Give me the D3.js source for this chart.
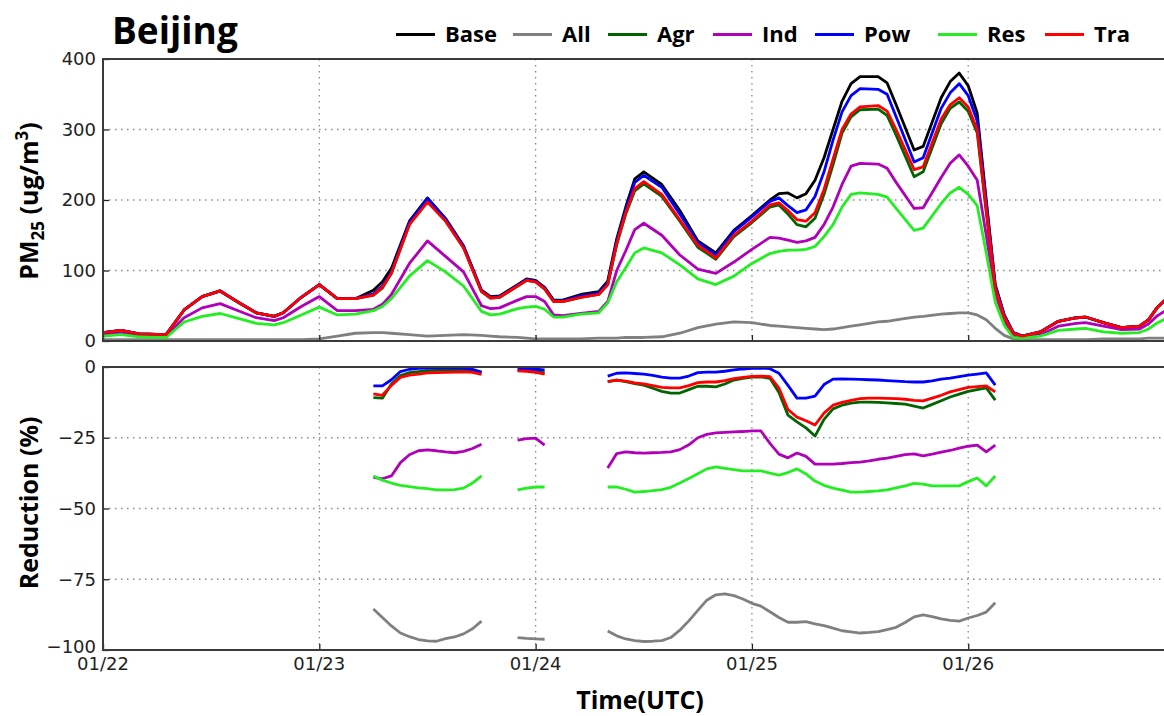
<!DOCTYPE html>
<html>
<head>
<meta charset="utf-8">
<script src="https://cdn.jsdelivr.net/npm/d3@7"></script>
<style>
  html, body { margin: 0; padding: 0; background: #fff; }
  svg { display: block; }
  .tick text { font-family: "DejaVu Sans", sans-serif; font-size: 18px; fill: #222; }
  .lbl { font-family: "Open Sans", sans-serif; font-weight: 700; fill: #000; }
</style>
</head>
<body>
<svg id="chart" width="1164" height="716"></svg>
<script>
// ---- PM2.5 concentration (ug/m3), hours since 01/22 00:00 UTC ----
const hours = [0,2,4,7,9, 11,13,15,17,19, 20,22,24,26,28, 30,31,32,34,36,
  38,40,42,43,44, 46,47,48,49,50, 51,53,55,56,57, 58,59,60,62,64,
  66,68,70,72,74, 75,76,77,78,79, 80,81,82,83,84, 86,87,88,90,91,
  93,94,95,96,97, 98,99,100,101,102, 104,106,108,109,111, 113,115,116,117,118];

const baseVals = [12,15,10,9,44, 63,71,55,40,35, 40,62,80,60,60, 72,84,103,170,203,
  174,135,72,63,64, 80,88,86,76,58, 58,66,70,85,145, 190,230,240,222,185,
  142,125,157,178,200, 209,210,203,209,228, 260,300,340,365,375, 375,366,335,271,276,
  345,368,380,362,323, 200,80,37,12,7, 13,28,33,34,26, 19,21,30,48,60];

const allVals = [2,2,2,2,2, 2,2,2,2,2, 2,2,3,7,11, 12,12,11,9,7,
  8,9,8,7,6, 5,4,3,3,3, 3,3,4,4,4, 5,5,5,6,11,
  19,24,27,26,22, 21,20,19,18,17, 16,17,19,21,23, 27,28,30,34,35,
  38,39,40,40,37, 30,18,8,3,2, 2,2,2,2,3, 3,3,4,4,4];

const agrVals = [12,15,10,9,44, 63,71,55,40,35, 40,62,80,60,60, 65,75,96,166,199,
  171,133,70,61,62, 78,86,84,74,56, 56,62,66,80,137, 180,213,223,205,170,
  133,116,148,168,190, 193,180,165,162,174, 208,250,295,318,328, 329,320,292,233,240,
  308,330,339,326,295, 182,72,33,11,7, 13,28,33,34,26, 19,21,30,48,60];

const indVals = [9,12,8,7,33, 47,53,43,33,29, 33,49,63,43,43, 45,52,66,110,142,
  120,98,50,46,47, 58,63,63,56,37, 36,39,42,56,100, 128,158,167,150,122,
  102,96,112,130,147, 146,143,140,142,147, 165,190,222,248,252, 251,245,225,188,189,
  232,252,264,248,228, 150,68,28,8,5, 9,21,25,26,21, 16,17,24,36,44];

const powVals = [12,15,10,9,44, 63,71,55,40,35, 40,62,80,60,60, 67,78,98,168,202,
  173,134,71,62,63, 79,87,85,75,57, 57,64,68,82,141, 186,225,235,218,180,
  140,122,155,176,198, 203,192,182,186,205, 240,285,325,348,358, 357,350,318,254,260,
  330,352,365,348,312, 196,78,36,12,7, 13,28,33,34,26, 19,21,30,48,60];

const resVals = [7,9,6,5,27, 35,39,32,25,23, 26,37,48,37,38, 43,49,60,92,114,
  98,78,42,37,38, 46,48,49,45,34, 34,38,40,54,84, 104,125,132,125,108,
  88,80,92,110,124, 127,129,129,130,134, 148,165,190,208,210, 208,204,188,157,160,
  195,210,218,208,192, 125,55,22,5,4, 7,15,17,18,13, 11,12,17,26,32];

const traVals = [12,15,10,9,44, 63,71,55,40,35, 40,62,80,60,60, 65,76,96,165,197,
  170,132,70,61,62, 78,86,84,74,56, 56,62,66,80,138, 182,216,226,208,172,
  136,118,150,170,193, 196,185,172,170,182, 215,258,300,322,332, 334,326,300,243,247,
  315,335,345,332,300, 188,75,34,11,7, 13,28,33,34,26, 19,21,30,48,60];

// ---- Reduction relative to Base (%), hourly from hour 30 to 99; null = no value ----
const redStart = 30;
const allRed = [-85.5,-88.5,-91.5,-94,-95.3,-96.3,-96.8,-96.9,-96,-95.4,-94.3,-92.5,-89.8,
  null,null,null, -95.6,-95.9,-96.1,-96.2, null,null,null,null,null,null,
  -93.3,-95,-96.1,-96.7,-97,-96.9,-96.7,-95.6,-93,-89.7,
  -86,-82.4,-80.5,-80.2,-80.8,-82,-83.5,-84.5,-86.5,-88.5,
  -90.2,-90.2,-90,-90.8,-91.4,-92.3,-93.2,-93.6,-94,-93.8,
  -93.5,-92.8,-92,-90.3,-88.3,-87.6,-88.2,-89,-89.5,-89.8,
  -88.7,-87.8,-86.6,-83.3];
const agrRed = [-10.8,-11,-6,-3,-2,-1.6,-1.3,-1.2,-1.1,-1,-1,-1.2,-2,
  null,null,null, -1.2,-1.3,-1.6,-2, null,null,null,null,null,null,
  -5.2,-4.6,-5.2,-5.9,-6.4,-7.5,-8.6,-9.2,-9.2,-8.0,
  -6.8,-6.8,-7.0,-6.0,-4.6,-4.0,-3.6,-3.5,-4.0,-9.0,
  -17,-19.4,-21.5,-24.4,-18.5,-14.8,-13.5,-12.8,-12.4,-12.4,
  -12.5,-12.7,-12.9,-13.1,-13.8,-14.5,-13.2,-11.9,-10.6,-9.6,
  -8.6,-8.0,-7.4,-11.7];
const indRed = [-39,-39.5,-38.5,-33.8,-31,-29.6,-29.3,-29.6,-30,-30.3,-29.8,-28.8,-27.3,
  null,null,null, -25.8,-25.3,-25.1,-27.6, null,null,null,null,null,null,
  -35.7,-30.6,-30,-30.3,-30.4,-30.3,-30.2,-30,-29.2,-27.5,
  -25,-23.8,-23.3,-23.1,-22.9,-22.8,-22.6,-22.6,-27,-30.8,
  -32.1,-30.4,-31.6,-34.3,-34.3,-34.3,-34.1,-33.8,-33.6,-33.2,
  -32.6,-32.2,-31.6,-31,-30.7,-31.4,-30.8,-30.1,-29.5,-28.7,
  -28,-27.6,-30,-27.6];
const powRed = [-6.7,-6.7,-4.5,-1.6,-0.8,-0.5,-0.4,-0.3,-0.3,-0.3,-0.4,-0.8,-1.8,
  null,null,null, -0.7,-0.7,-0.8,-1.0, null,null,null,null,null,null,
  -3.2,-2.2,-2.1,-2.3,-2.5,-3.0,-3.6,-3.9,-3.9,-3.2,
  -2.0,-1.8,-1.8,-1.5,-1.0,-0.7,-0.5,-0.4,-0.6,-2.2,
  -6.5,-11,-11,-10.3,-6.2,-4.3,-4.2,-4.3,-4.4,-4.5,
  -4.6,-4.8,-5.0,-5.2,-5.3,-5.3,-4.9,-4.3,-3.9,-3.4,
  -2.9,-2.5,-2.1,-6.4];
const resRed = [-38.5,-40,-41,-41.8,-42.3,-42.7,-43,-43.4,-43.4,-43.3,-42.8,-41,-38.5,
  null,null,null, -43.4,-42.8,-42.4,-42.4, null,null,null,null,null,null,
  -42.4,-42.4,-43.2,-44.2,-44,-43.7,-43.3,-42.5,-41,-39.4,
  -37.7,-36,-35.3,-35.8,-36.3,-36.7,-36.7,-36.7,-37.5,-38.2,
  -37.3,-36,-37.8,-40.3,-41.8,-42.8,-43.5,-44.2,-44.2,-44,
  -43.8,-43.4,-42.7,-42,-41.1,-41.4,-42,-42,-42,-42,
  -40.5,-39.2,-42,-38.5];
const traRed = [-9.5,-10,-6.5,-3.7,-2.9,-2.5,-2.1,-2,-1.9,-1.8,-1.7,-1.9,-2.6,
  null,null,null, -1.4,-1.5,-1.9,-2.5, null,null,null,null,null,null,
  -5.2,-4.6,-5.0,-5.6,-6.0,-6.6,-7.2,-7.4,-7.4,-6.6,
  -5.5,-5.3,-5.3,-4.8,-4.1,-3.7,-3.3,-3.2,-3.4,-7.5,
  -15,-17.7,-19,-20.5,-16.3,-13.5,-12.5,-11.8,-11.2,-11,
  -11,-11.1,-11.2,-11.4,-11.8,-12,-11,-10,-8.8,-8,
  -7.2,-6.9,-6.7,-8.8];

// ---- labels ----
const dayTicks = [0, 24, 48, 72, 96];
const dayLabels = ["01/22", "01/23", "01/24", "01/25", "01/26"];
const pmTicks = [0, 100, 200, 300, 400];
const redTicks = [0, -25, -50, -75, -100];

const seriesNames = ["Base", "All", "Agr", "Ind", "Pow", "Res", "Tra"];
const seriesColors = ["#000000", "#808080", "#006400", "#b000b8", "#0000ff", "#22ee22", "#ff0000"];

// ---- layout ----
const svg = d3.select("#chart");
const left = 103, right = 1166.5;
const top1 = 59, bot1 = 341;
const top2 = 367, bot2 = 650;

const x = d3.scaleLinear().domain([0, 118]).range([left, right]);
const y1 = d3.scaleLinear().domain([0, 400]).range([bot1, top1]);
const y2 = d3.scaleLinear().domain([-100, 0]).range([bot2, top2]);

const defs = svg.append("defs");
defs.append("clipPath").attr("id", "clipTop")
  .append("rect").attr("x", left).attr("y", top1).attr("width", right - left).attr("height", bot1 - top1);
defs.append("clipPath").attr("id", "clipBot")
  .append("rect").attr("x", left).attr("y", top2).attr("width", right - left).attr("height", bot2 - top2);

function grid(yScale, yVals, y0, y1px) {
  const g = svg.append("g").attr("stroke", "#8a8a8a").attr("stroke-width", 1.3)
    .attr("stroke-dasharray", "1.5,4.5").attr("fill", "none");
  yVals.forEach(v => g.append("line")
    .attr("x1", left).attr("x2", right).attr("y1", yScale(v)).attr("y2", yScale(v)));
  dayTicks.slice(1).forEach(h => g.append("line")
    .attr("x1", x(h)).attr("x2", x(h)).attr("y1", y0).attr("y2", y1px));
}
grid(y1, [100, 200, 300], top1, bot1);
grid(y2, [-25, -50, -75], top2, bot2);

// ---- top panel lines ----
const topSeries = [baseVals, allVals, agrVals, indVals, powVals, resVals, traVals];
const lineTop = d3.line().x((d, i) => x(hours[i])).y(d => y1(d));
const gTop = svg.append("g").attr("clip-path", "url(#clipTop)");
topSeries.forEach((vals, k) => {
  gTop.append("path").datum(vals)
    .attr("d", lineTop)
    .attr("fill", "none")
    .attr("stroke", seriesColors[k])
    .attr("stroke-width", 2.8)
    .attr("stroke-linejoin", "round");
});

// ---- bottom panel lines ----
const botSeries = [null, allRed, agrRed, indRed, powRed, resRed, traRed];
const lineBot = d3.line()
  .defined(d => d !== null)
  .x((d, i) => x(redStart + i))
  .y(d => y2(d));
const gBot = svg.append("g").attr("clip-path", "url(#clipBot)");
botSeries.forEach((vals, k) => {
  if (!vals) return;
  gBot.append("path").datum(vals)
    .attr("d", lineBot)
    .attr("fill", "none")
    .attr("stroke", seriesColors[k])
    .attr("stroke-width", 2.8)
    .attr("stroke-linejoin", "round");
});

// ---- axes ----
function styleAxis(g) {
  g.select(".domain").remove();
  g.selectAll(".tick line").attr("stroke", "#222").attr("stroke-width", 1.3);
}
svg.append("g").attr("transform", `translate(${left},0)`)
  .call(d3.axisLeft(y1).tickValues(pmTicks).tickSize(-6).tickPadding(7))
  .call(styleAxis);
svg.append("g").attr("transform", `translate(${left},0)`)
  .call(d3.axisLeft(y2).tickValues(redTicks).tickSize(-6).tickPadding(7)
    .tickFormat(d => d < 0 ? "\u2212" + Math.abs(d) : d))
  .call(styleAxis)
  .call(g => g.selectAll(".tick text").filter(d => d === -100).attr("dy", "0.12em"));
svg.append("g").attr("transform", `translate(0,${bot2})`)
  .call(d3.axisBottom(x).tickValues(dayTicks).tickSize(-6).tickFormat(""))
  .call(styleAxis);
svg.append("g").attr("transform", `translate(0,${bot1})`)
  .call(d3.axisBottom(x).tickValues(dayTicks).tickSize(-6).tickFormat(""))
  .call(styleAxis);

// day labels under the lower panel, nudged right of the corner label
svg.append("g").selectAll("text").data(dayTicks).join("text")
  .attr("x", d => x(d)).attr("y", bot2 + 20)
  .attr("text-anchor", "middle")
  .attr("font-family", "DejaVu Sans, sans-serif").attr("font-size", 18).attr("fill", "#222")
  .text((d, i) => dayLabels[i]);

// spines
const spine = svg.append("g").attr("stroke", "#3a3a3a").attr("stroke-width", 2).attr("fill", "none");
[[top1, bot1], [top2, bot2]].forEach(([a, b]) => {
  spine.append("path").attr("d", `M${right},${a}H${left}V${b}H${right}`);
});

// ---- text ----
svg.append("text").attr("class", "lbl").attr("x", 112).attr("y", 44)
  .attr("font-size", 37).text("Beijing");

const yl1 = svg.append("text").attr("class", "lbl").attr("font-size", 25)
  .attr("text-anchor", "middle")
  .attr("transform", "translate(38,201) rotate(-90)");
yl1.append("tspan").text("PM");
yl1.append("tspan").attr("font-size", 17).attr("dy", 6).text("25");
yl1.append("tspan").attr("dy", -6).text(" (ug/m");
yl1.append("tspan").attr("font-size", 17).attr("dy", -10).text("3");
yl1.append("tspan").attr("dy", 10).text(")");

svg.append("text").attr("class", "lbl").attr("font-size", 25)
  .attr("text-anchor", "middle")
  .attr("transform", "translate(38,503) rotate(-90)")
  .text("Reduction (%)");

svg.append("text").attr("class", "lbl").attr("font-size", 25)
  .attr("text-anchor", "middle").attr("x", 640).attr("y", 709)
  .text("Time(UTC)");

// ---- legend ----
const legendX = [396, 513, 608, 713, 815, 938, 1045];
const leg = svg.append("g");
seriesNames.forEach((name, k) => {
  leg.append("line")
    .attr("x1", legendX[k]).attr("x2", legendX[k] + 39)
    .attr("y1", 34.5).attr("y2", 34.5)
    .attr("stroke", seriesColors[k]).attr("stroke-width", 3);
  leg.append("text").attr("class", "lbl").attr("font-size", 22)
    .attr("x", legendX[k] + 49).attr("y", 41.5).text(name);
});
</script>
</body>
</html>
